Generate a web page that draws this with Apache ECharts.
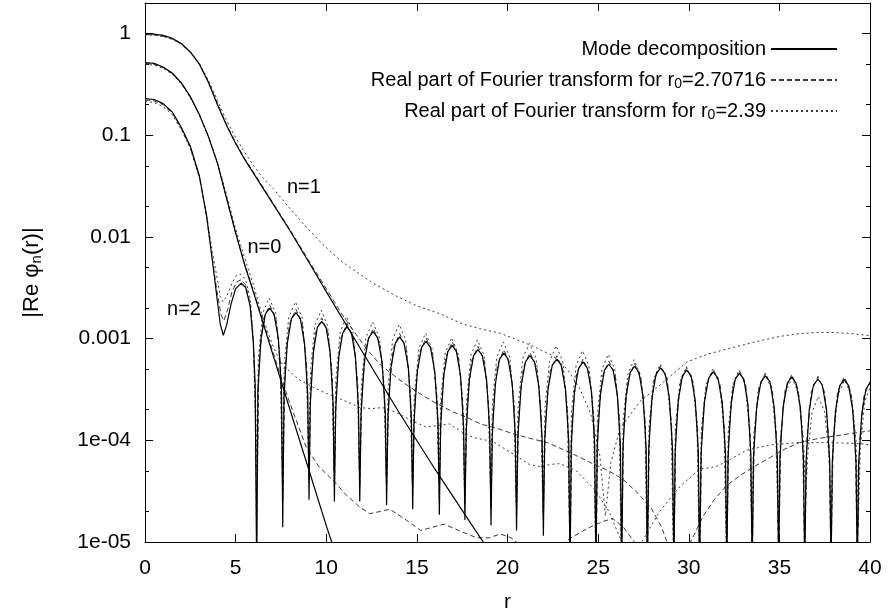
<!DOCTYPE html>
<html><head><meta charset="utf-8">
<script src="https://cdn.jsdelivr.net/npm/echarts@6/dist/echarts.min.js"></script>
<style>html,body{margin:0;padding:0;background:#fff}#c{width:889px;height:612px}</style>
</head><body><div id="c"></div>
<script>
const FONT = "'Liberation Sans', Arial, Helvetica, sans-serif";
const xTickValues = [0, 5, 10, 15, 20, 25, 30, 35, 40];
const yTickValues = [1e-5, 1e-4, 1e-3, 1e-2, 1e-1, 1];
const yTickLabels = ['1e-05', '1e-04', '0.001', '0.01', '0.1', '1'];
const yMinorTicks = [2e-5, 5e-5, 2e-4, 5e-4, 2e-3, 5e-3, 2e-2, 5e-2, 0.2, 0.5, 2];
const seriesNames = ['Mode decomposition', 'FT r0=2.70716', 'FT r0=2.39'];
const legendLabels = ['Mode decomposition', 'Real part of Fourier transform for r{sub|0}=2.70716', 'Real part of Fourier transform for r{sub|0}=2.39'];
const curveLabels = ['n=0', 'n=1', 'n=2'];
const curveLabelPos = [[6.59, 0.0079], [8.77, 0.0306], [2.15, 0.00195]];

// Mode decomposition (solid)
const modeN0 = [[0,0.52],[0.5,0.51],[1,0.47],[1.5,0.41],[2,0.33],[2.5,0.24],[3,0.16],[3.5,0.097],[4,0.053],[4.5,0.024],[5,0.011],[5.5,0.0053],[6,0.0028],[7,0.00075],[8,0.0002],[9,0.000054],[10,0.0000145],[10.3,0.00001],[10.8,0.0000053]];
const modeN1 = [[0,1],[0.5,0.99],[1,0.96],[1.5,0.9],[2,0.8],[2.5,0.66],[3,0.5],[3.5,0.33],[4,0.2],[4.5,0.125],[5,0.083],[5.5,0.058],[6,0.042],[7,0.022],[8,0.0115],[9,0.0058],[10,0.0029],[12,0.00074],[14,0.00019],[16,0.000052],[18,0.000015],[18.66,0.00001],[19.3,0.0000066]];
const modeN2 = [[0,0.229],[0.5,0.225],[1,0.205],[1.5,0.17],[2,0.12],[2.5,0.078],[3,0.04],[3.4,0.016],[3.7,0.0062],[3.95,0.0027],[4.15,0.0014],[4.32,0.00108],[4.5,0.00135],[4.75,0.0022],[5,0.0031],[5.3,0.0035],[5.55,0.0032],[5.8,0.0021],[5.98,0.0009],[6.08,0.00035],
[6.16,5e-6],[6.23,3.1e-4],[6.4,1.0e-3],[6.64,1.74e-3],[6.88,2.0e-3],[7.12,1.74e-3],[7.36,1.0e-3],[7.53,3.1e-4],
[7.6,1.4e-5],[7.67,2.8e-4],[7.85,9.0e-4],[8.08,1.57e-3],[8.33,1.8e-3],[8.57,1.57e-3],[8.8,9.0e-4],[8.98,2.8e-4],
[9.05,2.6e-5],[9.12,2.3e-4],[9.29,7.4e-4],[9.51,1.29e-3],[9.75,1.48e-3],[9.99,1.29e-3],[10.21,7.4e-4],[10.38,2.3e-4],
[10.45,2.5e-5],[10.52,2.0e-4],[10.69,6.6e-4],[10.91,1.14e-3],[11.15,1.31e-3],[11.39,1.14e-3],[11.61,6.6e-4],[11.78,2.0e-4],
[11.85,2.5e-5],[11.92,1.8e-4],[12.1,5.9e-4],[12.34,1.02e-3],[12.59,1.17e-3],[12.84,1.02e-3],[13.08,5.9e-4],[13.26,1.8e-4],
[13.33,2.3e-5],[13.4,1.6e-4],[13.57,5.2e-4],[13.81,9.0e-4],[14.05,1.04e-3],[14.29,9.0e-4],[14.53,5.2e-4],[14.7,1.6e-4],
[14.77,2.1e-5],[14.84,1.5e-4],[15.02,4.7e-4],[15.26,8.2e-4],[15.51,9.4e-4],[15.75,8.2e-4],[15.99,4.7e-4],[16.17,1.5e-4],
[16.24,1.85e-5],[16.31,1.34e-4],[16.48,4.3e-4],[16.71,7.5e-4],[16.95,8.6e-4],[17.18,7.5e-4],[17.41,4.3e-4],[17.58,1.34e-4],
[17.65,1.65e-5],[17.72,1.22e-4],[17.89,3.9e-4],[18.13,6.8e-4],[18.37,7.8e-4],[18.61,6.8e-4],[18.85,3.9e-4],[19.02,1.22e-4],
[19.09,1.45e-5],[19.16,1.12e-4],[19.33,3.6e-4],[19.56,6.3e-4],[19.8,7.2e-4],[20.03,6.3e-4],[20.26,3.6e-4],[20.43,1.12e-4],
[20.5,1.3e-5],[20.57,1.06e-4],[20.75,3.4e-4],[20.99,5.9e-4],[21.24,6.8e-4],[21.49,5.9e-4],[21.73,3.4e-4],[21.91,1.06e-4],
[21.98,1.15e-5],[22.05,9.8e-5],[22.23,3.15e-4],[22.47,5.5e-4],[22.72,6.3e-4],[22.96,5.5e-4],[23.2,3.15e-4],[23.38,9.8e-5],
[23.45,5e-6],[23.52,9.2e-5],[23.69,2.95e-4],[23.92,5.1e-4],[24.17,5.9e-4],[24.41,5.1e-4],[24.64,2.95e-4],[24.81,9.2e-5],
[24.88,5e-6],[24.95,8.7e-5],[25.12,2.8e-4],[25.35,4.9e-4],[25.59,5.6e-4],[25.83,4.9e-4],[26.06,2.8e-4],[26.23,8.7e-5],
[26.3,5e-6],[26.37,8.3e-5],[26.54,2.7e-4],[26.77,4.65e-4],[27.01,5.35e-4],[27.25,4.65e-4],[27.48,2.7e-4],[27.65,8.3e-5],
[27.72,5e-6],[27.79,8.0e-5],[27.97,2.6e-4],[28.2,4.5e-4],[28.45,5.15e-4],[28.7,4.5e-4],[28.93,2.6e-4],[29.11,8.0e-5],
[29.18,5e-6],[29.25,7.6e-5],[29.42,2.45e-4],[29.65,4.3e-4],[29.89,4.9e-4],[30.13,4.3e-4],[30.36,2.45e-4],[30.53,7.6e-5],
[30.6,5e-6],[30.68,7.3e-5],[30.86,2.35e-4],[31.1,4.1e-4],[31.35,4.7e-4],[31.61,4.1e-4],[31.85,2.35e-4],[32.03,7.3e-5],
[32.1,5e-6],[32.17,7.1e-5],[32.34,2.3e-4],[32.56,4.0e-4],[32.8,4.55e-4],[33.04,4.0e-4],[33.26,2.3e-4],[33.43,7.1e-5],
[33.5,5e-6],[33.57,6.7e-5],[33.75,2.15e-4],[33.98,3.75e-4],[34.23,4.3e-4],[34.48,3.75e-4],[34.71,2.15e-4],[34.89,6.7e-5],
[34.96,5e-6],[35.03,6.6e-5],[35.2,2.1e-4],[35.44,3.65e-4],[35.68,4.2e-4],[35.92,3.65e-4],[36.16,2.1e-4],[36.33,6.6e-5],
[36.4,5e-6],[36.47,6.2e-5],[36.65,2.0e-4],[36.88,3.5e-4],[37.13,4.0e-4],[37.37,3.5e-4],[37.6,2.0e-4],[37.78,6.2e-5],
[37.85,5e-6],[37.92,6.2e-5],[38.1,1.98e-4],[38.33,3.45e-4],[38.58,3.95e-4],[38.82,3.45e-4],[39.05,1.98e-4],[39.23,6.2e-5],
[39.3,5e-6],[39.37,5.8e-5],[39.55,1.85e-4],[39.78,3.2e-4],[40,3.65e-4]];

// Fourier transform, r0 = 2.70716 (dashed)
const ft27N0 = [[0,0.51],[0.5,0.5],[1,0.462],[1.5,0.405],[2,0.325],[2.5,0.238],[3,0.159],[3.5,0.097],[4,0.053],[4.5,0.024],[5,0.011],[5.5,0.0054],[6,0.0029],[6.5,0.0015],[7,0.0008],[7.5,0.00042],[8,0.00023],[8.9,0.000085],[9.6,0.000055],[10.4,0.00004],[11.1,0.000029],[11.86,0.000022],[12.4,0.000019],[13,0.00002],[13.5,0.000021],[14.3,0.000017],[15.2,0.000013],[15.9,0.000014],[16.5,0.000015],[17.3,0.000013],[18.3,0.000011],[19,0.000011],[19.6,0.000012],[20.2,0.000011],[20.8,0.000009],[21.5,0.000007],[22.5,0.000008],[23.5,0.000011],[24.55,0.000014],[25.3,0.000016],[25.8,0.000017],[26.4,0.000014],[27,0.00001],[27.6,0.000006]];
const ft27N1 = [[0,0.98],[0.5,0.97],[1,0.94],[1.5,0.885],[2,0.79],[2.5,0.655],[3,0.5],[3.5,0.335],[4,0.205],[4.5,0.128],[5,0.085],[5.5,0.059],[6,0.043],[7,0.0225],[8,0.0118],[9,0.006],[10,0.0031],[10.9,0.0017],[12.2,0.0008],[13,0.00055],[14.07,0.00039],[15,0.0003],[15.9,0.00024],[17,0.00019],[17.7,0.00017],[18.5,0.000145],[19.5,0.00013],[20.3,0.000116],[21.2,0.000105],[22.2,0.000095],[23.5,0.000075],[24.7,0.000059],[25.6,0.00005],[26.4,0.000041],[27.2,0.00003],[27.9,0.000022],[28.5,0.000014],[29,0.000008],[29.5,0.000003],[30.1,0.00001],[30.8,0.000018],[31.4,0.000026],[32.1,0.000036],[32.9,0.000046],[33.6,0.000055],[34.5,0.000068],[35.3,0.000082],[36.1,0.000095],[37,0.000103],[38,0.00011],[39,0.000117],[40,0.000124]];
const ft27N2 = [[0,0.222],[0.5,0.218],[1,0.2],[1.5,0.166],[2,0.117],[2.5,0.076],[3,0.039],[3.4,0.0158],[3.7,0.0064],[3.95,0.0031],[4.2,0.0017],[4.35,0.0015],[4.55,0.0019],[4.8,0.0029],[5.05,0.0036],[5.3,0.0038],[5.55,0.0034],[5.8,0.0022],[5.98,0.00095],[6.1,0.0002],
[6.16,8e-6],[6.28,5.4e-4],[6.52,1.53e-3],[6.88,2.15e-3],[7.24,1.53e-3],[7.48,5.4e-4],
[7.6,2.5e-5],[7.72,4.9e-4],[7.96,1.38e-3],[8.33,1.95e-3],[8.69,1.38e-3],[8.93,4.9e-4],
[9.05,4e-5],[9.16,4e-4],[9.4,1.14e-3],[9.75,1.6e-3],[10.1,1.14e-3],[10.34,4e-4],
[10.45,3.5e-5],[10.56,3.55e-4],[10.8,1.0e-3],[11.15,1.42e-3],[11.5,1.0e-3],[11.74,3.55e-4],
[11.85,3.5e-5],[11.97,3.15e-4],[12.22,8.9e-4],[12.59,1.26e-3],[12.96,8.9e-4],[13.21,3.15e-4],
[13.33,3.2e-5],[13.45,2.8e-4],[13.69,8e-4],[14.05,1.12e-3],[14.41,8e-4],[14.65,2.8e-4],
[14.77,3e-5],[14.89,2.55e-4],[15.14,7.2e-4],[15.51,1.02e-3],[15.87,7.2e-4],[16.12,2.55e-4],
[16.24,2.7e-5],[16.35,2.3e-4],[16.59,6.6e-4],[16.95,9.3e-4],[17.3,6.6e-4],[17.54,2.3e-4],
[17.65,2.4e-5],[17.77,2.1e-4],[18.01,6e-4],[18.37,8.4e-4],[18.73,6e-4],[18.97,2.1e-4],
[19.09,2.1e-5],[19.2,1.95e-4],[19.44,5.5e-4],[19.8,7.8e-4],[20.15,5.5e-4],[20.39,1.95e-4],
[20.5,1.9e-5],[20.62,1.8e-4],[20.87,5.2e-4],[21.24,7.3e-4],[21.61,5.2e-4],[21.86,1.8e-4],
[21.98,1.7e-5],[22.1,1.7e-4],[22.35,4.8e-4],[22.72,6.8e-4],[23.08,4.8e-4],[23.33,1.7e-4],
[23.45,6e-6],[23.56,1.58e-4],[23.81,4.5e-4],[24.17,6.3e-4],[24.52,4.5e-4],[24.77,1.58e-4],
[24.88,6e-6],[24.99,1.5e-4],[25.24,4.3e-4],[25.59,6e-4],[25.95,4.3e-4],[26.19,1.5e-4],
[26.3,6e-6],[26.41,1.43e-4],[26.66,4e-4],[27.01,5.7e-4],[27.37,4e-4],[27.61,1.43e-4],
[27.72,6e-6],[27.84,1.38e-4],[28.09,3.9e-4],[28.45,5.5e-4],[28.82,3.9e-4],[29.06,1.38e-4],
[29.18,6e-6],[29.29,1.3e-4],[29.54,3.7e-4],[29.89,5.2e-4],[30.25,3.7e-4],[30.49,1.3e-4],
[30.6,6e-6],[30.72,1.25e-4],[30.98,3.55e-4],[31.35,5e-4],[31.73,3.55e-4],[31.98,1.25e-4],
[32.1,6e-6],[32.21,1.2e-4],[32.45,3.45e-4],[32.8,4.85e-4],[33.15,3.45e-4],[33.39,1.2e-4],
[33.5,6e-6],[33.62,1.15e-4],[33.87,3.25e-4],[34.23,4.6e-4],[34.6,3.25e-4],[34.84,1.15e-4],
[34.96,6e-6],[35.08,1.1e-4],[35.32,3.15e-4],[35.68,4.45e-4],[36.04,3.15e-4],[36.28,1.1e-4],
[36.4,6e-6],[36.52,1.06e-4],[36.76,3e-4],[37.13,4.25e-4],[37.49,3e-4],[37.73,1.06e-4],
[37.85,6e-6],[37.97,1.05e-4],[38.21,3e-4],[38.58,4.2e-4],[38.94,3e-4],[39.18,1.05e-4],
[39.3,6e-6],[39.42,9.5e-5],[39.66,2.7e-4],[40,3.8e-4]];

// Fourier transform, r0 = 2.39 (dotted)
const ft239N0 = [[0,0.5],[0.5,0.49],[1,0.455],[1.5,0.4],[2,0.32],[2.5,0.235],[3,0.158],[3.5,0.097],[4,0.054],[4.5,0.026],[5,0.012],[5.5,0.0062],[6,0.0033],[6.5,0.0016],[7,0.0009],[7.45,0.0006],[8,0.00047],[8.55,0.00039],[9.3,0.00033],[10,0.00029],[10.9,0.00025],[11.86,0.00021],[12.5,0.000205],[13.1,0.00021],[13.8,0.00019],[14.6,0.00016],[15.5,0.000135],[16.2,0.00014],[16.8,0.000145],[17.5,0.00012],[18.1,0.000107],[19.2,0.000097],[20.5,0.00007],[21.2,0.000058],[21.8,0.000055],[22.4,0.000058],[22.9,0.000059],[23.8,0.00005],[24.8,0.000033],[25.6,0.00002],[26.3,0.00001],[26.8,0.000004],[27.4,0.00001],[28.4,0.00002],[29.5,0.000035],[30.6,0.000052],[31.5,0.000055],[32.3,0.000065],[33.2,0.00008],[34.5,0.00009],[35.96,0.000095],[37.5,0.000095],[38.5,0.000094],[39.45,0.000093],[40,0.00009]];
const ft239N1 = [[0,0.97],[0.5,0.965],[1,0.935],[1.5,0.88],[2,0.79],[2.5,0.66],[3,0.51],[3.5,0.35],[4,0.22],[4.5,0.14],[5,0.095],[5.5,0.068],[6,0.05],[6.5,0.038],[7.07,0.03],[8,0.019],[8.9,0.0125],[9.8,0.0085],[10.76,0.0059],[11.7,0.0045],[12.6,0.0035],[13.9,0.0026],[15,0.0021],[16.3,0.00175],[17.5,0.0014],[18.5,0.00125],[19.6,0.00113],[20.5,0.00098],[21.5,0.00083],[22.5,0.00068],[23.3,0.0005],[24,0.00032],[24.6,0.00018],[25.1,0.00007],[25.4,0.000018],[25.7,0.00006],[26.2,0.00013],[27.3,0.00024],[28.5,0.00036],[29.9,0.00059],[31,0.0007],[32.1,0.00079],[33.9,0.00095],[35,0.00105],[36.1,0.00112],[37.1,0.00115],[38,0.00115],[39,0.00112],[40,0.00107]];
const ft239N2 = [[0,0.215],[0.5,0.21],[1,0.192],[1.5,0.16],[2,0.113],[2.5,0.074],[3,0.038],[3.4,0.0165],[3.7,0.0075],[3.95,0.0042],[4.15,0.0026],[4.3,0.0023],[4.5,0.0026],[4.8,0.0035],[5.05,0.0042],[5.3,0.0043],[5.55,0.0038],[5.8,0.0025],[5.95,0.0012],[6.05,0.0003],
[6.13,5e-5],[6.25,6.3e-4],[6.49,1.78e-3],[6.85,2.5e-3],[7.21,1.78e-3],[7.45,6.3e-4],
[7.57,6e-5],[7.69,5.8e-4],[7.93,1.63e-3],[8.3,2.3e-3],[8.66,1.63e-3],[8.9,5.8e-4],
[9.02,6e-5],[9.13,4.8e-4],[9.37,1.35e-3],[9.72,1.9e-3],[10.07,1.35e-3],[10.31,4.8e-4],
[10.42,5e-5],[10.53,4.1e-4],[10.77,1.17e-3],[11.12,1.65e-3],[11.47,1.17e-3],[11.71,4.1e-4],
[11.82,5e-5],[11.94,3.6e-4],[12.19,1.03e-3],[12.56,1.45e-3],[12.93,1.03e-3],[13.18,3.6e-4],
[13.3,4.5e-5],[13.42,3.45e-4],[13.66,9.8e-4],[14.02,1.38e-3],[14.38,9.8e-4],[14.62,3.45e-4],
[14.74,4e-5],[14.86,2.8e-4],[15.11,8e-4],[15.48,1.13e-3],[15.84,8e-4],[16.09,2.8e-4],
[16.21,4e-5],[16.32,2.55e-4],[16.56,7.2e-4],[16.92,1.02e-3],[17.27,7.2e-4],[17.51,2.55e-4],
[17.62,3.5e-5],[17.74,2.4e-4],[17.98,6.9e-4],[18.34,9.7e-4],[18.7,6.9e-4],[18.94,2.4e-4],
[19.06,3e-5],[19.17,2.3e-4],[19.41,6.6e-4],[19.77,9.3e-4],[20.12,6.6e-4],[20.36,2.3e-4],
[20.47,2.5e-5],[20.59,2.25e-4],[20.84,6.4e-4],[21.21,9e-4],[21.58,6.4e-4],[21.83,2.25e-4],
[21.95,2e-5],[22.07,2.1e-4],[22.32,6e-4],[22.69,8.5e-4],[23.05,6e-4],[23.3,2.1e-4],
[23.42,1.5e-5],[23.53,1.9e-4],[23.78,5.4e-4],[24.14,7.6e-4],[24.49,5.4e-4],[24.74,1.9e-4],
[24.85,1.2e-5],[24.96,1.75e-4],[25.21,5e-4],[25.56,7e-4],[25.92,5e-4],[26.16,1.75e-4],
[26.27,8e-6],[26.38,1.55e-4],[26.63,4.4e-4],[26.98,6.2e-4],[27.34,4.4e-4],[27.58,1.55e-4],
[27.69,8e-6],[27.81,1.4e-4],[28.06,4e-4],[28.42,5.6e-4],[28.79,4e-4],[29.03,1.4e-4],
[29.15,8e-6],[29.26,1.33e-4],[29.51,3.75e-4],[29.86,5.3e-4],[30.22,3.75e-4],[30.46,1.33e-4],
[30.57,8e-6],[30.69,1.25e-4],[30.95,3.55e-4],[31.32,5e-4],[31.7,3.55e-4],[31.95,1.25e-4],
[32.07,1e-5],[32.18,1.22e-4],[32.42,3.5e-4],[32.77,4.9e-4],[33.12,3.5e-4],[33.36,1.22e-4],
[33.47,1.2e-5],[33.59,1.12e-4],[33.84,3.2e-4],[34.2,4.5e-4],[34.57,3.2e-4],[34.81,1.12e-4],
[34.93,1.5e-5],[35.05,1.02e-4],[35.31,2.9e-4],[35.69,4.1e-4],[36.07,2.9e-4],[36.33,1.02e-4],
[36.45,2.6e-5],[36.56,7e-5],[36.8,1.9e-4],[37.15,2.7e-4],[37.5,1.9e-4],[37.74,7e-5],
[37.85,2e-5],[37.97,9.8e-5],[38.23,2.8e-4],[38.6,3.9e-4],[38.98,2.8e-4],[39.23,9.8e-5],
[39.35,1.4e-5],[39.47,8.5e-5],[39.71,2.4e-4],[40,3.3e-4]];

const chart = echarts.init(document.getElementById('c'), null, { renderer: 'canvas' });

const solidStyle = { color: '#000', width: 1.2, type: 'solid' };
const dashStyle = { color: '#3a3a3a', width: 1, type: [5, 3] };
const dotStyle = { color: '#3a3a3a', width: 1, type: [2, 3] };

function line(name, data, style, extra) {
  return Object.assign({
    type: 'line', name: name, data: data, symbol: 'none', showSymbol: false,
    lineStyle: style, itemStyle: { color: style.color }, clip: true, animation: false,
    xAxisIndex: 0, yAxisIndex: 0, emphasis: { disabled: true }
  }, extra || {});
}

function labelMark(idx) {
  return {
    symbol: 'circle', symbolSize: 0, silent: true, animation: false,
    label: { show: true, position: 'inside', formatter: curveLabels[idx], fontSize: 20, fontFamily: FONT, color: '#000' },
    data: [{ coord: curveLabelPos[idx] }]
  };
}

const axisCommon = { lineStyle: { color: '#000', width: 1 } };
const yLabelFmt = function (v) {
  for (let i = 0; i < yTickValues.length; i++) {
    if (Math.abs(Math.log10(yTickValues[i]) - Math.log10(v)) < 1e-6) return yTickLabels[i];
  }
  return '';
};

function yAx(pos, major, showLabel) {
  return {
    type: 'log', logBase: 10, min: 1e-5, max: 2, position: pos,
    axisLine: { show: major, onZero: false, lineStyle: axisCommon.lineStyle },
    axisTick: { show: true, inside: true, length: major ? 8 : 4, lineStyle: axisCommon.lineStyle, customValues: major ? yTickValues : yMinorTicks },
    axisLabel: { show: showLabel, customValues: yTickValues, formatter: yLabelFmt, fontSize: 21, fontFamily: FONT, color: '#000', margin: 14 },
    splitLine: { show: false }, minorTick: { show: false },
    name: showLabel ? '|Re φ{sub|n}(r)|' : '',
    nameLocation: 'middle', nameGap: 101,
    nameTextStyle: { fontSize: 22, fontFamily: FONT, color: '#000', lineHeight: 24,
      rich: { sub: { fontSize: 15, fontFamily: FONT, color: '#000', lineHeight: 10, verticalAlign: 'bottom' } } }
  };
}

const option = {
  backgroundColor: '#fff',
  animation: false,
  textStyle: { fontFamily: FONT },
  grid: { left: 145, right: 19, top: 3, bottom: 70, containLabel: false, outerBoundsMode: 'none' },
  legend: {
    data: seriesNames, orient: 'vertical', right: 46, top: 33, align: 'right',
    itemWidth: 66, itemHeight: 10, itemGap: 9, selectedMode: false,
    itemStyle: { opacity: 0, borderWidth: 0 },
    formatter: function (n) { return legendLabels[seriesNames.indexOf(n)]; },
    textStyle: { fontSize: 20, fontFamily: FONT, color: '#000', lineHeight: 22,
      rich: { sub: { fontSize: 14, fontFamily: FONT, color: '#000', lineHeight: 10, verticalAlign: 'bottom' } } }
  },
  xAxis: [
    { type: 'value', min: 0, max: 40, interval: 5, position: 'bottom',
      axisLine: { show: true, onZero: false, lineStyle: axisCommon.lineStyle },
      axisTick: { show: true, inside: true, length: 8, lineStyle: axisCommon.lineStyle, customValues: xTickValues },
      axisLabel: { show: true, customValues: xTickValues, fontSize: 21, fontFamily: FONT, color: '#000', margin: 16 },
      splitLine: { show: false },
      name: 'r', nameLocation: 'middle', nameGap: 50, nameTextStyle: { fontSize: 21, fontFamily: FONT, color: '#000' } },
    { type: 'value', min: 0, max: 40, interval: 5, position: 'top',
      axisLine: { show: true, onZero: false, lineStyle: axisCommon.lineStyle },
      axisTick: { show: true, inside: true, length: 8, lineStyle: axisCommon.lineStyle, customValues: xTickValues },
      axisLabel: { show: false }, splitLine: { show: false } }
  ],
  yAxis: [yAx('left', true, true), yAx('left', false, false), yAx('right', true, false), yAx('right', false, false)],
  series: [
    line(seriesNames[2], ft239N0, dotStyle),
    line(seriesNames[2], ft239N1, dotStyle),
    line(seriesNames[2], ft239N2, dotStyle),
    line(seriesNames[1], ft27N0, dashStyle),
    line(seriesNames[1], ft27N1, dashStyle),
    line(seriesNames[1], ft27N2, dashStyle),
    line(seriesNames[0], modeN0, solidStyle, { markPoint: labelMark(0) }),
    line(seriesNames[0], modeN1, solidStyle, { markPoint: labelMark(1) }),
    line(seriesNames[0], modeN2, solidStyle, { markPoint: labelMark(2) })
  ]
};
chart.setOption(option);
</script>
</body></html>
